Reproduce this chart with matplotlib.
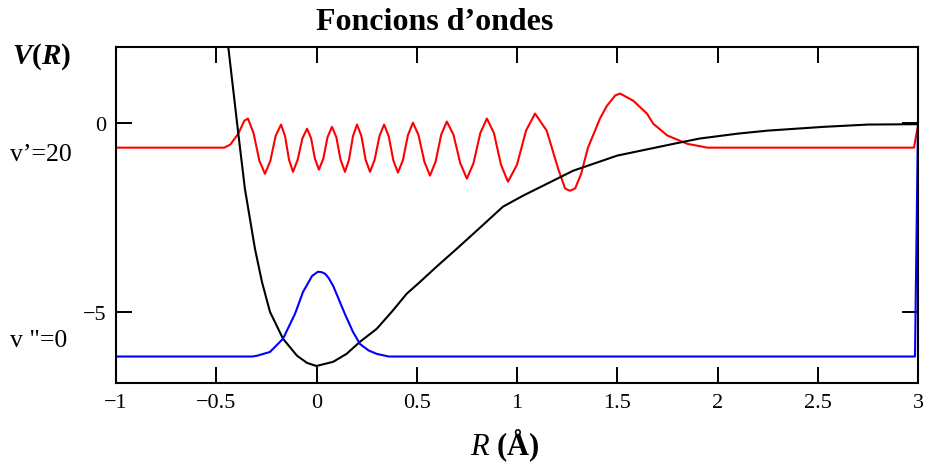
import matplotlib
matplotlib.use('Agg')
import matplotlib.pyplot as plt

plt.rcParams['font.family'] = ['Liberation Serif', 'DejaVu Serif']
plt.rcParams['mathtext.fontset'] = 'custom'
plt.rcParams['mathtext.rm'] = 'Liberation Serif'
plt.rcParams['mathtext.it'] = 'Liberation Serif:italic'
plt.rcParams['mathtext.bf'] = 'Liberation Serif:bold'
plt.rcParams['mathtext.bfit'] = 'Liberation Serif:italic:bold'

# potential V(R)
pot_r = [-0.46, -0.44, -0.39, -0.357, -0.307, -0.272, -0.232, -0.167, -0.097, -0.047,
         0.0, 0.083, 0.15, 0.217, 0.30, 0.38, 0.45, 0.516, 0.60, 0.70, 0.80, 0.93,
         1.03, 1.28, 1.50, 1.78, 1.91, 2.10, 2.25, 2.53, 2.75, 3.0]
pot_v = [2.9, 2.0, -0.29, -1.75, -3.33, -4.21, -5.0, -5.71, -6.16, -6.35,
         -6.43, -6.32, -6.11, -5.79, -5.45, -4.97, -4.52, -4.21, -3.80, -3.33, -2.85, -2.22,
         -1.93, -1.27, -0.87, -0.56, -0.42, -0.29, -0.21, -0.11, -0.05, -0.04]

# v''=0 wavefunction (offset)
v0_r = [-1.0, -0.32, -0.297, -0.232, -0.167, -0.107, -0.067, -0.040, -0.022, 0.007, 0.025,
        0.042, 0.060, 0.083, 0.142, 0.182, 0.217, 0.26, 0.30, 0.36, 2.985, 3.0]
v0_y = [-6.18, -6.18, -6.16, -6.06, -5.71, -5.05, -4.47, -4.22, -4.05, -3.94, -3.95,
        -3.99, -4.10, -4.31, -5.06, -5.53, -5.85, -6.02, -6.11, -6.18, -6.18, 0.05]

# v'=20 wavefunction (offset)
v20_r = [-1.0, -0.46, -0.43, -0.39, -0.36, -0.342, -0.314, -0.285, -0.257,
         -0.230, -0.204, -0.177, -0.157, -0.137, -0.117, -0.094, -0.070, -0.047,
         -0.027, -0.008, 0.012, 0.034, 0.055, 0.077, 0.099, 0.120, 0.142,
         0.162, 0.182, 0.202, 0.224, 0.245, 0.267, 0.290, 0.314, 0.337,
         0.360, 0.383, 0.406, 0.431, 0.456, 0.481, 0.509, 0.538, 0.566,
         0.594, 0.622, 0.65, 0.683, 0.717, 0.75, 0.783, 0.817, 0.85,
         0.885, 0.920, 0.955, 1.0, 1.045, 1.09, 1.148, 1.206, 1.24, 1.264, 1.29,
         1.32, 1.354, 1.414, 1.449, 1.49, 1.514, 1.58, 1.648, 1.68, 1.75, 1.85, 1.93, 1.95,
         2.98, 3.0]
v20_y = [-0.66, -0.66, -0.58, -0.29, 0.05, 0.11, -0.275, -1.005, -1.35,
         -1.005, -0.355, -0.05, -0.355, -0.98, -1.30, -0.98, -0.41, -0.16,
         -0.41, -0.95, -1.24, -0.95, -0.385, -0.11, -0.385, -0.98, -1.30,
         -0.98, -0.355, -0.05, -0.355, -0.98, -1.30, -0.98, -0.355, -0.05,
         -0.355, -0.99, -1.32, -0.99, -0.33, 0.0, -0.33, -1.03, -1.40,
         -1.03, -0.315, 0.03, -0.315, -1.07, -1.48, -1.07, -0.275, 0.11,
         -0.275, -1.11, -1.56, -1.11, -0.21, 0.24, -0.21, -1.23, -1.74, -1.80, -1.74,
         -1.35, -0.66, 0.11, 0.45, 0.72, 0.77, 0.58, 0.24, -0.03, -0.34, -0.56, -0.64, -0.66,
         -0.66, -0.07]

fig = plt.figure(figsize=(9.26, 4.64), dpi=100)
ax = fig.add_axes([116 / 926, 1 - 384 / 464, 802 / 926, 336 / 464])

ax.plot(v20_r, v20_y, color='#ff0000', lw=1.5)
ax.plot(pot_r, pot_v, color='black', lw=1.5)
ax.plot(v0_r, v0_y, color='#0000ff', lw=1.5)

ax.set_xlim(-1, 3)
ax.set_ylim(-6.88, 2.0)
ax.set_xticks([-1, -0.5, 0, 0.5, 1, 1.5, 2, 2.5, 3])
ax.set_xticklabels(['\u22121', '\u22120.5', '0', '0.5', '1', '1.5', '2', '2.5', '3'])
ax.set_yticks([0, -5])
ax.set_yticklabels(['0', '\u22125'])
ax.tick_params(direction='in', length=11.5, width=1.4, labelsize=16,
               top=True, right=True, pad=7)
for s in ax.spines.values():
    s.set_linewidth(1.5)

fig.text(435 / 926, 1 - 22 / 464, 'Foncions d\u2019ondes', ha='center', va='center',
         fontsize=23, fontweight='bold')
fig.text(42 / 926, 1 - 57 / 464, r'$\mathbfit{V}\mathbf{(}\mathbfit{R}\mathbf{)}$',
         ha='center', va='center', fontsize=21)
fig.text(505 / 926, 1 - 446 / 464, '$\\mathit{R}\\ \\mathbf{(\u00c5)}$',
         ha='center', va='center', fontsize=22)
fig.text(10 / 926, 1 - 155 / 464, 'v\u2019=20', ha='left', va='center', fontsize=18.5)
fig.text(10 / 926, 1 - 341 / 464, 'v "=0', ha='left', va='center', fontsize=18.5)

fig.savefig('out.png', dpi=100)
